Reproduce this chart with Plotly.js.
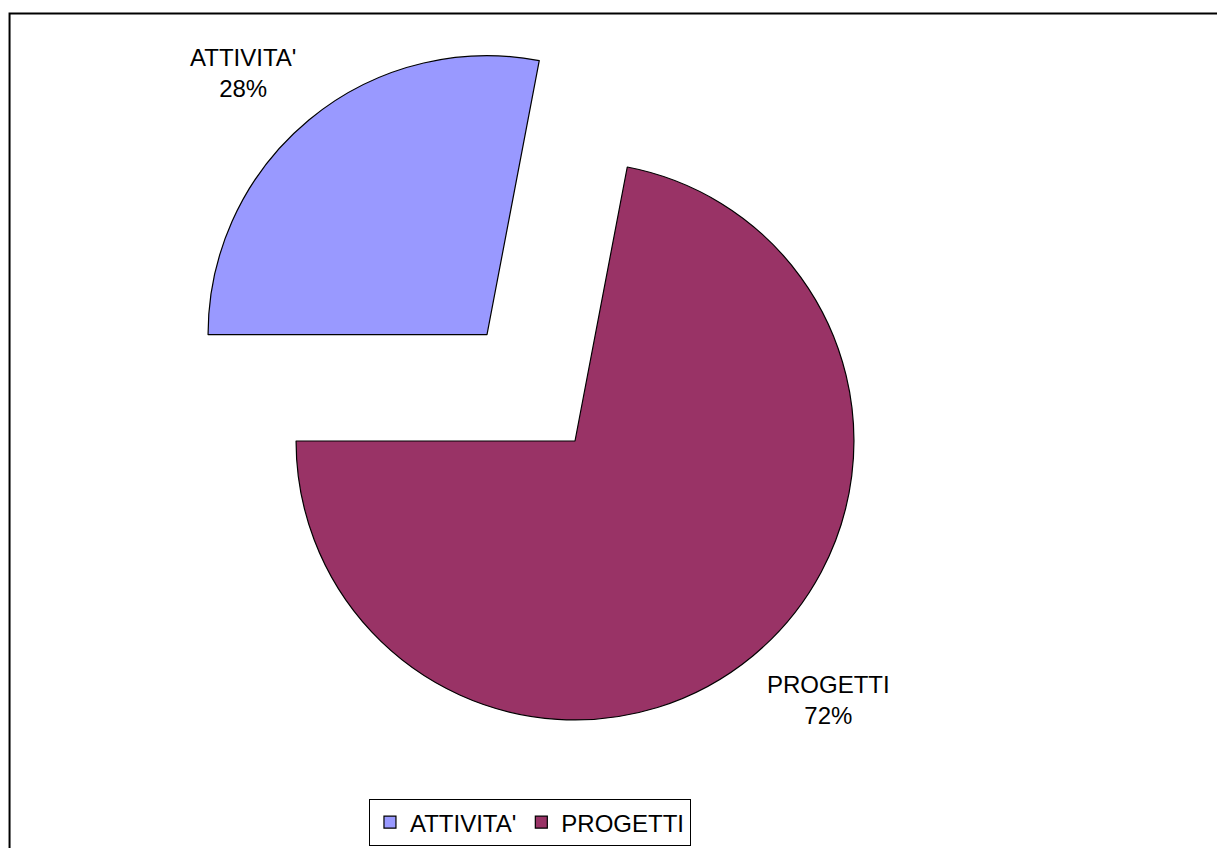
<!DOCTYPE html>
<html>
<head>
<meta charset="utf-8">
<script src="https://cdn.plot.ly/plotly-3.0.1.min.js"></script>
<style>
html, body { margin: 0; padding: 0; background: #ffffff; overflow: hidden; }
#wrap { width: 1217px; height: 848px; overflow: hidden; position: relative; }
#chart { width: 1217px; height: 860px; }
</style>
</head>
<body>
<div id="wrap"><div id="chart"></div></div>
<script>
const labels = ["ATTIVITA'", "PROGETTI"];
const values = [28, 72];
const colors = ["#9999FF", "#993366"];
const pulls = [0.495, 0];
// label anchor positions (paper coordinates)
const labelX = [0.1019, 0.8034];
const labelY = [0.9412, 0.1894];

const total = values.reduce((a, b) => a + b, 0);
const FONT = 'Liberation Sans, Arial, sans-serif';

const trace = {
  type: 'pie',
  labels: labels,
  values: values,
  sort: false,
  direction: 'clockwise',
  rotation: -90,
  pull: pulls,
  marker: { colors: colors, line: { color: '#000000', width: 1.2 } },
  textinfo: 'none',
  hoverinfo: 'label+percent',
  automargin: false
};

const annotations = labels.map((lab, i) => ({
  xref: 'paper', yref: 'paper',
  x: labelX[i], y: labelY[i],
  xanchor: 'center', yanchor: 'middle',
  text: lab + '<br>' + Math.round(values[i] / total * 100) + '%',
  showarrow: false,
  align: 'center',
  font: { family: FONT, size: 24, color: '#000000' }
}));

const layout = {
  width: 1217,
  height: 860,
  margin: { l: 158, r: 225, t: 24, b: 2 },
  paper_bgcolor: '#ffffff',
  plot_bgcolor: '#ffffff',
  font: { family: FONT, size: 24, color: '#000000' },
  showlegend: true,
  legend: {
    orientation: 'h',
    x: 0.446, xanchor: 'center',
    y: 0.0707, yanchor: 'top',
    bordercolor: '#000000',
    borderwidth: 1,
    bgcolor: '#ffffff',
    font: { family: FONT, size: 24, color: '#000000' },
    itemwidth: 30,
    tracegroupgap: 0
  },
  annotations: annotations,
  shapes: [{
    type: 'rect', xref: 'paper', yref: 'paper',
    x0: -0.178, x1: 1.3, y0: -0.05, y1: 1.0126,
    line: { color: '#000000', width: 2 },
    fillcolor: 'rgba(0,0,0,0)',
    layer: 'below'
  }]
};

Plotly.newPlot('chart', [trace], layout, { displayModeBar: false, staticPlot: true });
</script>
</body>
</html>
